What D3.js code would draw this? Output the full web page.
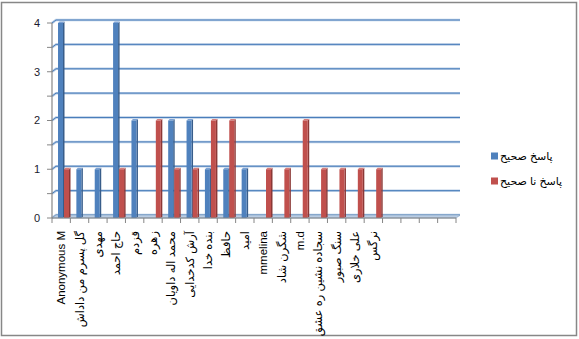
<!DOCTYPE html>
<html><head><meta charset="utf-8">
<script src="https://cdn.jsdelivr.net/npm/d3@7"></script>
<style>
html,body{margin:0;padding:0;background:#fff;}
svg{display:block;font-family:"Liberation Sans","DejaVu Sans",Arial,sans-serif;}
</style></head>
<body>
<svg id="chart" width="579" height="339"></svg>
<script>
const categories = ["Anonymous M","گل پسرم من داداش","مهدی","حاج احمد","قزدم","زهره","محمد اله داویان","آرش کدخدایی","بنده خدا","حافظ","امید","mmelina","شگرن شاد","m.d","سجاده نشین ره عشق","سنگ صبور","علی خلاری","نرگس","","","",""];
const correct   = [4,1,1,4,2,0,2,2,1,1,1,0,0,0,0,0,0,0,0,0,0,0];
const incorrect = [1,0,0,1,0,2,1,1,2,2,0,1,1,2,1,1,1,1,0,0,0,0];
const seriesNames = ["پاسخ صحیح","پاسخ نا صحیح"];
const yTicks = [0,1,2,3,4];
const gridVals = [0,0.5,1,1.5,2,2.5,3,3.5,4];

const svg = d3.select("#chart");
const colors = ["#4f81bd","#c0504d"];
const sideColors = ["#385d8a","#8c3836"];
const topColors = ["#7da2d4","#d77f7c"];

// outer border
svg.append("rect").attr("x",1.5).attr("y",2.5).attr("width",575).attr("height",333)
  .attr("fill","#fff").attr("stroke","#878787").attr("stroke-width",1.5);

const x0 = 52, x1 = 456;
const dx = 4, dy = -3;
const x = d3.scaleBand().domain(d3.range(categories.length)).range([x0, x1]);
const y = d3.scaleLinear().domain([0,4]).range([218, 23]);

// back wall gridlines
const g = svg.append("g");
gridVals.forEach(v => {
  const yy = y(v);
  g.append("path")
    .attr("d", `M${x0},${yy}L${x0+dx},${yy+dy}L${x1+dx},${yy+dy}`)
    .attr("fill","none").attr("stroke","#b9cde5").attr("stroke-width",2.5);
  g.append("path")
    .attr("d", `M${x0},${yy}L${x0+dx},${yy+dy}L${x1+dx},${yy+dy}`)
    .attr("fill","none").attr("stroke","#4a7ebb").attr("stroke-width",1);
});
// floor
svg.append("path")
  .attr("d", `M${x0},${y(0)}L${x0+dx},${y(0)+dy}L${x1+dx},${y(0)+dy}L${x1},${y(0)}Z`)
  .attr("fill","#b9cde5").attr("stroke","#8ea9c8").attr("stroke-width",0.8);

// bars
const barW = 5;
const offsets = [6, 12];
[correct, incorrect].forEach((vals, si) => {
  const bg = svg.append("g");
  vals.forEach((v, i) => {
    if (v <= 0) return;
    const bx = x(i) + offsets[si];
    const top = y(v), bot = y(0);
    // side face
    bg.append("path")
      .attr("d", `M${bx+barW},${top}L${bx+barW+1.5},${top-1.5}L${bx+barW+1.5},${bot-1.5}L${bx+barW},${bot}Z`)
      .attr("fill", sideColors[si]);
    // top face
    bg.append("path")
      .attr("d", `M${bx},${top}L${bx+1.5},${top-1.5}L${bx+barW+1.5},${top-1.5}L${bx+barW},${top}Z`)
      .attr("fill", topColors[si]);
    // front
    bg.append("rect").attr("x", bx).attr("y", top).attr("width", barW).attr("height", bot - top)
      .attr("fill", colors[si]);
  });
});

// y axis
const yAxisG = svg.append("g");
yAxisG.append("line").attr("x1",x0).attr("x2",x0).attr("y1",y(4)).attr("y2",y(0))
  .attr("stroke","#868686").attr("stroke-width",1.2);
gridVals.forEach(v => {
  yAxisG.append("line").attr("x1",x0-5).attr("x2",x0).attr("y1",y(v)).attr("y2",y(v))
    .attr("stroke","#868686").attr("stroke-width",1);
});
yAxisG.selectAll("text").data(yTicks).join("text")
  .attr("x", 40).attr("y", d => y(d)).attr("dy","0.35em")
  .attr("text-anchor","end").attr("font-size",11).attr("fill","#1a1a2e")
  .text(d => d);

// x axis
const xAxisG = svg.append("g");
xAxisG.append("line").attr("x1",x0).attr("x2",x1).attr("y1",y(0)).attr("y2",y(0))
  .attr("stroke","#868686").attr("stroke-width",1.2);
d3.range(categories.length + 1).forEach(i => {
  const xx = i < categories.length ? x(i) : x1;
  xAxisG.append("line").attr("x1",xx).attr("x2",xx).attr("y1",y(0)).attr("y2",y(0)+5)
    .attr("stroke","#868686").attr("stroke-width",1);
});
xAxisG.selectAll("text.cat").data(categories).join("text").attr("class","cat")
  .attr("transform",(d,i)=>`translate(${x(i)+x.bandwidth()/2},231) rotate(-90)`)
  .attr("dy","0.35em").attr("text-anchor","end").attr("font-size",11.5).attr("fill","#000")
  .text(d => d);

// legend
const leg = svg.append("g");
seriesNames.forEach((n, i) => {
  const ly = 156 + i*25;
  leg.append("rect").attr("x",491).attr("y",ly-3.5).attr("width",7).attr("height",7)
    .attr("fill",colors[i]);
  leg.append("text").attr("x",500).attr("y",ly).attr("dy","0.35em")
    .attr("font-size",11).attr("fill","#000").text(n);
});
</script>
</body></html>
